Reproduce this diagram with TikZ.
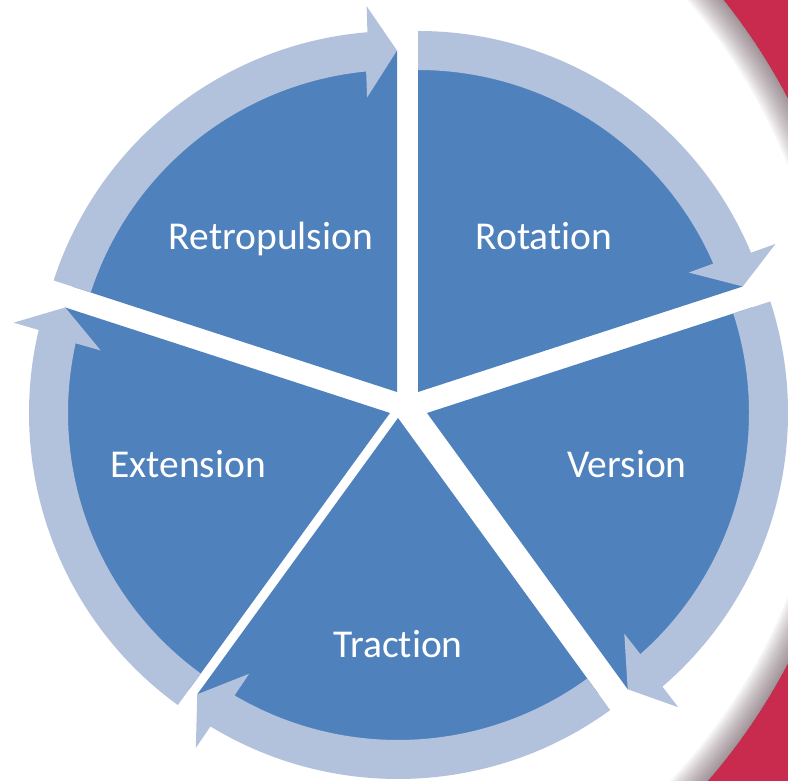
\documentclass[tikz,border=0pt]{standalone}
\usepackage{fontspec}
\setmainfont{Carlito}[Ligatures=NoCommon]
\definecolor{pieblue}{RGB}{79,129,189}
\definecolor{ringblue}{RGB}{179,194,220}
\definecolor{backred}{RGB}{200,43,78}
\definecolor{shadegray}{RGB}{80,55,65}
\begin{document}
\begin{tikzpicture}[x=1pt,y=1pt,
    pie/.style={fill=pieblue},
    ring/.style={fill=ringblue},
    txt/.style={text=white,font=\fontsize{39.5}{40}\selectfont,anchor=base}]
  \useasboundingbox (0,0) rectangle (788,780);

  % red backdrop round the big white disc
  \fill[backred,even odd rule] (-20,-20) rectangle (808,800) (246,399) circle[radius=611pt];
  \begin{scope}
    \clip (246,399) circle[radius=611pt];
    \foreach \w in {4,8,...,56}
      \draw[shadegray,opacity=.05,line width=\w pt] (246,399) circle[radius=611pt];
  \end{scope}

  % Retropulsion
  \begin{scope}[shift={(397,388)}]
    \fill[pie] (0,0) -- (162:341.5pt) arc[start angle=162,end angle=90,radius=341.5pt] -- cycle;
    \fill[ring] (162:361pt) arc[start angle=162,end angle=94.7,radius=361pt]
      -- (94.5:387pt) -- (90:341.5pt) -- (95.8:296pt) -- (95.5:322pt)
      arc[start angle=95.5,end angle=162,radius=322pt] -- cycle;
  \end{scope}

  % Rotation
  \begin{scope}[shift={(418,388)}]
    \fill[pie] (0,0) -- (90:341.5pt) arc[start angle=90,end angle=18,radius=341.5pt] -- cycle;
    \fill[ring] (90:361pt) arc[start angle=90,end angle=22.7,radius=361pt]
      -- (22.5:387pt) -- (18:341.5pt) -- (23.8:296pt) -- (23.5:322pt)
      arc[start angle=23.5,end angle=90,radius=322pt] -- cycle;
  \end{scope}

  % Version
  \begin{scope}[shift={(427,367)}]
    \fill[pie] (0,0) -- (18:341.5pt) arc[start angle=18,end angle=-54,radius=341.5pt] -- cycle;
    \fill[ring] (18:361pt) arc[start angle=18,end angle=-49.3,radius=361pt]
      -- (-49.5:387pt) -- (-54:341.5pt) -- (-48.2:296pt) -- (-48.5:322pt)
      arc[start angle=-48.5,end angle=18,radius=322pt] -- cycle;
  \end{scope}

  % Traction
  \begin{scope}[shift={(398,362)}]
    \fill[pie] (0,0) -- (-54:341.5pt) arc[start angle=-54,end angle=-126,radius=341.5pt] -- cycle;
    \fill[ring] (-54:361pt) arc[start angle=-54,end angle=-121.3,radius=361pt]
      -- (-121.5:387pt) -- (-126:341.5pt) -- (-120.2:296pt) -- (-120.5:322pt)
      arc[start angle=-120.5,end angle=-54,radius=322pt] -- cycle;
  \end{scope}

  % Extension
  \begin{scope}[shift={(390,367)}]
    \fill[pie] (0,0) -- (-126:341.5pt) arc[start angle=-126,end angle=-198,radius=341.5pt] -- cycle;
    \fill[ring] (-126:361pt) arc[start angle=-126,end angle=-193.3,radius=361pt]
      -- (-193.5:387pt) -- (-198:341.5pt) -- (-192.2:296pt) -- (-192.5:322pt)
      arc[start angle=-192.5,end angle=-126,radius=322pt] -- cycle;
  \end{scope}

  \node[txt] (retro) at (271,530) {Retropulsion};
  \node[txt] (rot) at (544,530) {Rotation};
  \node[txt] (vers) at (627,302) {Version};
  \node[txt] (ext) at (188,302) {Extension};
  \node[txt] (tract) at (398,122) {Traction};
\end{tikzpicture}
\end{document}
